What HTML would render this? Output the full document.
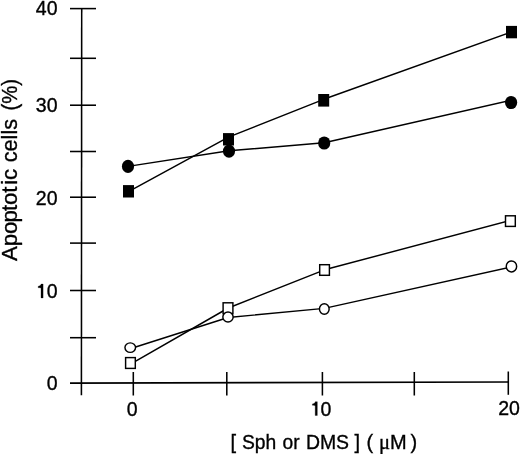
<!DOCTYPE html>
<html><head><meta charset="utf-8">
<style>
html,body{margin:0;padding:0;background:#fff;}
body{width:520px;height:454px;overflow:hidden;}
svg{display:block;will-change:transform;}
text{font-family:"Liberation Sans",sans-serif;fill:#000;stroke:#000;stroke-width:0.35px;}
</style></head>
<body>
<svg width="520" height="454" viewBox="0 0 520 454">
<g stroke="#000" stroke-width="1.55" fill="none">
  <!-- y axis -->
  <line x1="81.7" y1="7.9" x2="81.4" y2="395.3"/>
  <!-- x axis -->
  <line x1="70" y1="383.1" x2="508.9" y2="382.0"/>
  <!-- y ticks -->
  <line x1="70" y1="8.6" x2="96" y2="8.6"/>
  <line x1="70" y1="58.3" x2="96" y2="58.3"/>
  <line x1="70" y1="105.2" x2="96" y2="105.2"/>
  <line x1="70" y1="151.5" x2="96" y2="151.5"/>
  <line x1="70" y1="197.2" x2="96" y2="197.2"/>
  <line x1="70" y1="243.1" x2="96" y2="243.1"/>
  <line x1="70" y1="290.5" x2="96" y2="290.5"/>
  <line x1="70" y1="337.7" x2="96" y2="337.7"/>
  <!-- x ticks -->
  <line x1="133.3" y1="372" x2="133.3" y2="395.5"/>
  <line x1="226.8" y1="372" x2="226.8" y2="395.5"/>
  <line x1="322.4" y1="372" x2="322.4" y2="395.5"/>
  <line x1="414.3" y1="372" x2="414.3" y2="395.5"/>
  <line x1="508.3" y1="371.5" x2="508.3" y2="394.8"/>
</g>
<!-- series lines -->
<g stroke="#000" stroke-width="1.45" fill="none" stroke-linejoin="round">
  <polyline points="128.5,191.7 228.5,137.2 323.7,99.3 511.5,31.9"/>
  <polyline points="128,166.4 229,150.8 324.2,142.8 511.1,100.3"/>
  <polyline points="130.5,364.1 228.3,308.0 324.5,269.8 510.4,220.4"/>
  <polyline points="130.1,348.8 228.1,317.5 324.3,308.4 511.3,266.9"/>
</g>
<!-- open squares -->
<g stroke="#000" stroke-width="1.45" fill="#fff">
  <rect x="125.6" y="357.6" width="9.7" height="10.8"/>
  <rect x="223.1" y="302.8" width="9.8" height="10.8"/>
  <rect x="319.7" y="264.7" width="9.7" height="10.6"/>
  <rect x="505.5" y="215.8" width="9.8" height="10.6"/>
</g>
<!-- open circles -->
<g stroke="#000" stroke-width="1.45" fill="#fff">
  <ellipse cx="130.25" cy="347.6" rx="5.3" ry="4.75"/>
  <ellipse cx="228" cy="317" rx="5.15" ry="5.05"/>
  <ellipse cx="324.3" cy="309" rx="4.85" ry="5.2"/>
  <ellipse cx="511.45" cy="266.45" rx="5.2" ry="5.5"/>
</g>
<!-- filled circles -->
<g fill="#000">
  <ellipse cx="128" cy="166.4" rx="6.1" ry="6.6"/>
  <ellipse cx="229" cy="151.1" rx="6.1" ry="6.6"/>
  <ellipse cx="324.2" cy="143" rx="6.1" ry="6.6"/>
  <ellipse cx="511.1" cy="102.5" rx="6.1" ry="6.6"/>
</g>
<!-- filled squares -->
<g fill="#000">
  <rect x="123" y="185.1" width="11" height="12.4"/>
  <rect x="223" y="133.1" width="11" height="12.4"/>
  <rect x="318.2" y="94" width="11" height="12.6"/>
  <rect x="506" y="25.9" width="11" height="12.4"/>
</g>
<!-- y tick labels -->
<defs>
  <path id="one" d="M-4.5,-13.8 L-4.5,0 L-6.6,0 L-6.6,-9.8 C-7.3,-10.1 -8.4,-10.2 -9.4,-10.2 L-9.4,-11.6 C-7.9,-11.7 -6.9,-12.5 -6.5,-13.8 Z"/>
</defs>
<g font-size="19.5" text-anchor="end">
  <text x="57.5" y="15">40</text>
  <text x="57.5" y="111.5">30</text>
  <text x="57.5" y="204.5">20</text>
  <text x="57.5" y="297.9">0</text>
  <text x="57.5" y="390.2">0</text>
</g>
<use href="#one" x="47.6" y="297.9" fill="#000" stroke="#000" stroke-width="0.3"/>
<!-- x tick labels -->
<g font-size="19.5" text-anchor="middle">
  <text x="132.3" y="415.5">0</text>
  <text x="509" y="415">20</text>
</g>
<text x="320.6" y="415.5" font-size="19.5">0</text>
<use href="#one" x="321.8" y="415.5" fill="#000" stroke="#000" stroke-width="0.3"/>
<text y="448.8" font-size="20"><tspan x="230.6">[</tspan><tspan x="241.9" textLength="34.3" lengthAdjust="spacingAndGlyphs">Sph</tspan><tspan x="282.6" textLength="17.1" lengthAdjust="spacingAndGlyphs">or</tspan><tspan x="305.9" textLength="43.2" lengthAdjust="spacingAndGlyphs">DMS</tspan><tspan x="354.6">]</tspan><tspan x="366.5">(</tspan><tspan x="379.0" font-family="Liberation Serif" font-size="20.5">μ</tspan><tspan x="389.9">M</tspan><tspan x="410.4">)</tspan></text>
<text transform="translate(16.8,0) rotate(-90)" font-size="22.2"><tspan x="-261.1 -246.27 -234.07 -222.42 -211.12 -205.02 -192.67 -184.81 -180.08">Apoptotic</tspan><tspan x="-162.32" textLength="43.39" lengthAdjust="spacingAndGlyphs">cells</tspan><tspan x="-110.56" textLength="31.52" lengthAdjust="spacingAndGlyphs">(%)</tspan></text>
</svg>
</body></html>
